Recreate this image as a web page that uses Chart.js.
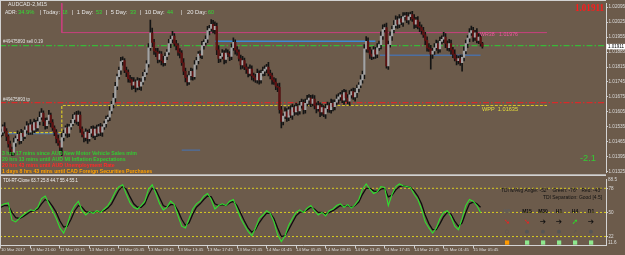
<!DOCTYPE html>
<html><head><meta charset="utf-8">
<script src="https://cdn.jsdelivr.net/npm/chart.js@4.4.0/dist/chart.umd.min.js"></script>
<style>
html,body{margin:0;padding:0;background:#6c5b4b;width:625px;height:255px;overflow:hidden}
#main{position:absolute;left:0;top:0}
#ind{position:absolute;left:0;top:176px}
</style></head><body>
<canvas id="main" width="625" height="176"></canvas>
<canvas id="ind" width="625" height="79"></canvas>
<script>
// ---------------- DATA ----------------
const firstOpen = 1.01500;
// M15 closes, AUDCAD, bar 0 = 10 Mar 2017
const closes = [
 1.01510,1.01535,1.01515,1.01490,1.01455,1.01430,1.01415,1.01460,1.01480,1.01500,
 1.01470,1.01505,1.01490,1.01520,1.01540,1.01510,1.01545,1.01520,1.01555,1.01530,
 1.01560,1.01580,1.01600,1.01560,1.01540,1.01565,1.01590,1.01555,1.01530,1.01510,
 1.01480,1.01460,1.01440,1.01485,1.01505,1.01530,1.01505,1.01535,1.01550,1.01570,
 1.01590,1.01560,1.01590,1.01525,1.01500,1.01485,1.01510,1.01480,1.01505,1.01525,
 1.01495,1.01525,1.01505,1.01535,1.01510,1.01535,1.01550,1.01570,1.01580,1.01610,
 1.01640,1.01670,1.01725,1.01770,1.01800,1.01840,1.01845,1.01800,1.01790,1.01760,
 1.01755,1.01730,1.01745,1.01720,1.01750,1.01725,1.01745,1.01770,1.01790,1.01830,
 1.01905,1.01975,1.01930,1.01890,1.01885,1.01850,1.01875,1.01845,1.01835,1.01865,
 1.01885,1.01925,1.01945,1.01960,1.01925,1.01915,1.01885,1.01880,1.01835,1.01795,
 1.01765,1.01745,1.01775,1.01795,1.01770,1.01825,1.01845,1.01875,1.01870,1.01915,
 1.01930,1.01945,1.01985,1.01995,1.02015,1.01990,1.02005,1.01895,1.01855,1.01865,
 1.01880,1.01850,1.01880,1.01875,1.01865,1.01905,1.01930,1.01895,1.01885,1.01855,
 1.01825,1.01845,1.01815,1.01805,1.01785,1.01805,1.01775,1.01765,1.01755,1.01785,
 1.01755,1.01785,1.01795,1.01805,1.01815,1.01785,1.01775,1.01755,1.01745,1.01725,
 1.01720,1.01615,1.01560,1.01585,1.01605,1.01580,1.01615,1.01590,1.01625,1.01605,
 1.01630,1.01610,1.01635,1.01650,1.01615,1.01645,1.01660,1.01670,1.01645,1.01665,
 1.01635,1.01620,1.01635,1.01605,1.01625,1.01595,1.01620,1.01635,1.01615,1.01645,
 1.01630,1.01650,1.01665,1.01675,1.01685,1.01660,1.01695,1.01670,1.01655,1.01685,
 1.01700,1.01675,1.01695,1.01715,1.01730,1.01755,1.01780,1.01900,1.01935,1.01895,
 1.01875,1.01865,1.01895,1.01875,1.01905,1.01920,1.01960,1.01990,1.02000,1.01820,
 1.01920,1.01960,1.01990,1.02010,1.02035,1.02015,1.02040,1.02025,1.02050,1.02055,
 1.02035,1.02050,1.02060,1.02040,1.02015,1.02035,1.02005,1.02000,1.01985,1.01965,
 1.01940,1.01905,1.01900,1.01875,1.01890,1.01905,1.01925,1.01900,1.01935,1.01945,
 1.01955,1.01925,1.01905,1.01925,1.01895,1.01875,1.01855,1.01845,1.01855,1.01835,
 1.01860,1.01890,1.01925,1.01950,1.01975,1.01985,1.01955,1.01975,1.01940,1.01955,
 1.01925,1.01911
];
// wick lengths in points (0.00001) above / below the body
const wickUp = [
 15,10,20,12,8,14,10,22,12,16, 10,18,12,15,20,10,24,12,16,10, 18,25,20,10,16,12,22,10,14,10,
 12,16,10,20,15,10,18,12,16,22, 12,18,20,15,10,12,16,10,20,12, 15,10,18,12,16,10,12,15,10,20,
 15,22,18,12,15,20,18,10,15,12, 16,12,20,10,15,12,16,20,12,15, 20,60,22,15,12,18,15,12,20,16,
 12,20,16,22,12,15,10,16,12,20, 15,12,20,15,12,20,15,12,16,20, 12,16,20,15,22,18,21,15,20,12,
 16,12,20,15,12,18,22,12,16,10, 16,20,12,15,10,20,16,12,16,20, 12,16,20,15,12,22,16,12,10,16,
 12,20,16,12,20,15,12,20,16,12, 16,12,20,15,12,20,22,16,12,20, 16,12,20,12,16,10,20,16,12,20,
 16,12,20,16,12,20,16,12,16,20, 12,16,20,16,12,20,16,20,22,16, 12,20,16,12,20,16,20,22,16,20,
 16,20,16,22,20,16,20,12,20,15, 16,20,12,16,20,12,16,20,12,16, 12,16,20,16,12,20,16,12,20,16,
 22,16,12,20,16,12,20,16,12,16, 12,20,16,12,20,22,16,12,20,16, 12,6
];
const wickDn = [
 12,16,10,20,15,20,15,12,16,10, 16,12,20,10,16,12,10,20,12,16, 12,16,10,20,16,12,16,20,12,16,
 20,12,16,40,16,12,20,16,12,10, 16,12,20,16,12,20,16,22,12,16, 12,20,16,12,16,20,12,16,10,16,
 12,16,20,16,12,20,16,12,20,16, 12,20,16,22,12,16,20,12,16,10, 16,12,20,16,22,16,12,20,16,12,
 16,12,20,16,12,20,16,22,12,16, 20,16,12,20,16,12,20,16,12,16, 16,12,16,20,12,16,20,22,20,16,
 12,20,16,12,20,16,12,20,16,12, 20,16,12,20,16,12,20,16,12,16, 20,16,12,20,16,12,16,20,12,16,
 20,16,30,16,12,20,16,12,20,16, 12,20,16,12,20,16,12,20,16,12, 16,20,12,22,16,12,20,16,12,16,
 20,16,12,20,16,12,20,16,12,20, 16,12,20,22,16,12,16,20,16,12, 20,16,12,20,16,12,20,16,12,10,
 16,12,20,16,12,20,16,12,20,16, 12,20,16,12,20,16,12,20,16,12, 20,16,12,70,20,16,12,20,16,12,
 16,20,12,16,20,16,12,20,16,12, 40,16,12,20,16,12,20,16,12,16, 12,8
];
// TDI values, one every 2 bars (bar = 2*k)
const tdiGreen = [
 58,60,61,41,39,43,47,50,53,52, 56,66,69,60,52,43,32,26,36,50, 58,63,52,47,51,49,52,50,54,58,
 65,74,80,82,71,61,56,54,58,63, 77,82,72,60,53,56,63,59,46,34, 32,43,54,60,63,69,72,65,54,58,
 60,58,63,65,54,43,35,28,23,32, 43,47,52,49,39,24,16,23,35,43, 50,53,50,55,58,52,47,50,46,52,
 54,58,60,56,59,55,59,65,77,83, 77,72,74,80,79,58,71,80,83,81, 80,79,71,65,54,39,32,26,32,43,
 50,52,45,34,30,43,58,65,63,58, 50
];
const tdiSignal = [
 56,58,58,50,44,43,45,48,51,52, 54,60,65,63,57,50,40,33,34,42, 52,58,56,51,50,50,51,51,52,55,
 60,68,76,80,77,68,60,56,56,60, 70,78,76,67,58,56,59,59,52,42, 35,38,48,56,60,65,69,68,60,58,
 59,58,61,63,58,49,40,32,27,30, 38,44,49,49,43,32,22,23,30,38, 46,50,51,53,56,54,50,50,48,50,
 52,55,58,57,58,56,58,62,71,78, 78,75,74,77,78,68,70,76,80,81, 80,79,75,69,60,47,37,30,30,37,
 45,50,48,40,34,38,50,60,62,60, 56
];
const priceTicks = [1.02095,1.02025,1.01955,1.01885,1.01815,1.01745,1.01675,1.01605,1.01535,1.01465,1.01395,1.01325];
const timeTickBars = [0,16,32,48,64,80,96,112,128,144,160,176,192,208,224,240,256];
const timeTickLabels = ["10 Mar 2017","10 Mar 21:00","11 Mar 00:15","13 Mar 01:45","13 Mar 05:45","13 Mar 09:45",
 "13 Mar 13:45","13 Mar 17:45","13 Mar 21:45","14 Mar 01:45","14 Mar 05:45","14 Mar 09:45","14 Mar 13:45",
 "14 Mar 17:45","14 Mar 21:45","15 Mar 01:45","15 Mar 05:45"];
const tdiLevels = [78, 50, 22];
const lastPrice = 1.01911;
const sellPrice = 1.01915, tpPrice = 1.01648;
const wppPrev = 1.01508, wppNow = 1.01635, wr38 = 1.01976;
const weekStartBar = 33, pivotEndBar = 296;

// ---------------- BUILD ----------------
const X_MIN = -0.5, X_MAX = 328;
const opens = [firstOpen].concat(closes.slice(0, closes.length - 1));
const wickData = closes.map((c, i) => ({x: i, y: [Math.min(opens[i], c) - wickDn[i] * 1e-5, Math.max(opens[i], c) + wickUp[i] * 1e-5]}));
const bodyData = closes.map((c, i) => ({x: i, y: [opens[i], c]}));
const FONT = '"Liberation Sans", Arial, sans-serif';

function T(ctx, s, x, y, o) {
  ctx.save();
  ctx.font = (o.bold ? 'bold ' : '') + o.size + 'px ' + (o.family || FONT);
  ctx.fillStyle = o.color; ctx.textAlign = o.align || 'left'; ctx.textBaseline = 'middle';
  if (o.w) ctx.fillText(s, x, y, o.w); else ctx.fillText(s, x, y);
  ctx.restore();
}
function hline(y, x0, x1, color, dash, width) {
  return {type: 'line', data: [{x: x0, y: y}, {x: x1, y: y}], borderColor: color, borderWidth: width || 1,
    borderDash: dash || [], pointRadius: 0, order: 10, fill: false};
}

const mainText = {
  id: 'mainText',
  afterDraw(chart) {
    const ctx = chart.ctx;
    ctx.save();
    ctx.fillStyle = '#d2d2d2';
    ctx.fillRect(0, 0, 606, 1);
    ctx.fillRect(0, 0, 1, 176);
    ctx.fillRect(0, 174.3, 606, 1.8);
    ctx.restore();
    const W = '#e6e6e6', G = '#33dd33';
    T(ctx, 'AUDCAD-2,M15', 8, 4.5, {size: 5.6, color: W, w: 39});
    T(ctx, 'ADR:', 5, 12.5, {size: 5.8, color: W, w: 12});
    T(ctx, '34.9%', 18, 12.5, {size: 5.8, color: G, w: 18});
    T(ctx, '| Today:', 40, 12.5, {size: 5.8, color: W, w: 20});
    T(ctx, '18', 62.5, 12.5, {size: 5.8, color: G, w: 5});
    T(ctx, '|  1 Day:', 72, 12.5, {size: 5.8, color: W, w: 23});
    T(ctx, '53', 96, 12.5, {size: 5.8, color: G, w: 6});
    T(ctx, '|  5 Day:', 106, 12.5, {size: 5.8, color: W, w: 22});
    T(ctx, '33', 130, 12.5, {size: 5.8, color: G, w: 6});
    T(ctx, '|  10 Day:', 140, 12.5, {size: 5.8, color: W, w: 25});
    T(ctx, '44', 167, 12.5, {size: 5.8, color: G, w: 6});
    T(ctx, '|', 181, 12.5, {size: 5.8, color: W});
    T(ctx, '20 Day:', 187, 12.5, {size: 5.8, color: W, w: 20});
    T(ctx, '60', 208, 12.5, {size: 5.8, color: G, w: 6});
    T(ctx, '1.01911', 604, 8.5, {size: 10, color: '#ff1a1a', bold: true, align: 'right', w: 29, family: '"Liberation Serif", "Times New Roman", serif'});
    T(ctx, 'WR38   1.01976', 480, 34.5, {size: 5.6, color: '#ee5aa0', w: 38});
    T(ctx, 'WPP  1.01635', 482, 109.5, {size: 5.6, color: '#e6dc3a', w: 38});
    T(ctx, '#49475893 sell 0.19', 3, 41.5, {size: 4.8, color: '#e0e0e0', w: 40});
    T(ctx, '#49475893 tp', 3, 99.8, {size: 4.8, color: '#e0e0e0', w: 27});
    T(ctx, '-2.1', 580, 158, {size: 9.5, color: '#33cc33', w: 16});
    T(ctx, '3 hrs 17 mins since AUD New Motor Vehicle Sales m/m', 2, 153.3, {size: 5.2, color: '#33cc33', bold: true, w: 140});
    T(ctx, '20 hrs 13 mins until AUD MI Inflation Expectations', 2, 159.3, {size: 5.2, color: '#33cc33', bold: true, w: 134});
    T(ctx, '20 hrs 43 mins until AUD Unemployment Rate', 2, 165.3, {size: 5.2, color: '#ff2a2a', bold: true, w: 115});
    T(ctx, '1 days 8 hrs 43 mins until CAD Foreign Securities Purchases', 2, 171.3, {size: 5.2, color: '#ffa000', bold: true, w: 154});
    const yp = chart.scales.y.getPixelForValue(lastPrice);
    ctx.save();
    ctx.fillStyle = '#ffffff';
    ctx.fillRect(606.5, yp - 2.6, 18.5, 5.4);
    ctx.restore();
    T(ctx, '1.01911', 608, yp + 0.2, {size: 4.6, color: '#000000', w: 16});
  }
};

new Chart(document.getElementById('main'), {
  type: 'bar',
  data: {datasets: [
    {type: 'bar', data: wickData, backgroundColor: '#141414', barThickness: 1, grouped: false, order: 2},
    {type: 'bar', data: bodyData, barThickness: 1.6, grouped: false, order: 1,
      backgroundColor: c => (closes[c.dataIndex] >= opens[c.dataIndex] ? '#a4a4a4' : '#5e1212')},
    hline(sellPrice, X_MIN, X_MAX, '#38b838', [6, 2, 1.5, 2], 1.2),
    hline(tpPrice, X_MIN, X_MAX, '#d82a2a', [6, 2, 1.5, 2], 1.2),
    {type: 'line', data: [{x: X_MIN, y: wppPrev}, {x: weekStartBar, y: wppPrev}, {x: weekStartBar, y: wppNow}, {x: pivotEndBar, y: wppNow}],
      borderColor: '#d6c628', borderWidth: 1.2, borderDash: [3, 1.5], pointRadius: 0, order: 10},
    {type: 'line', data: [{x: weekStartBar, y: 1.0216}, {x: weekStartBar, y: wr38}, {x: pivotEndBar, y: wr38}],
      borderColor: '#c8407e', borderWidth: 1, pointRadius: 0, order: 10},
    hline(1.01935, 116, 203, '#3a8ad6', [], 1.5),
    hline(1.01870, 205.5, 260, '#4c6fa2', [], 1.5),
    hline(1.01504, 3.8, 32, '#4c72a8', [], 1.5),
    hline(1.01426, 98, 108, '#4c6fa2', [], 1.2)
  ]},
  options: {
    responsive: false, animation: false, devicePixelRatio: 1, events: [],
    layout: {padding: {top: 1, bottom: 2, left: 0, right: 0}},
    plugins: {legend: {display: false}, tooltip: {enabled: false}},
    scales: {
      x: {type: 'linear', min: X_MIN, max: X_MAX, display: false, offset: false},
      y: {position: 'right', min: 1.013203, max: 1.021133,
        afterBuildTicks: s => { s.ticks = priceTicks.map(v => ({value: v})); },
        afterFit: s => { s.width = 19; },
        ticks: {autoSkip: false, padding: 0.5, color: '#dcdcdc', font: {size: 4.6, family: FONT},
          callback: v => Number(v).toFixed(5)},
        grid: {display: true, drawOnChartArea: false, drawTicks: true, tickLength: 2, color: '#cfcfcf'},
        border: {display: true, color: '#d4d4d4', width: 1}
      }
    }
  },
  plugins: [mainText]
});

const indText = {
  id: 'indText',
  afterDraw(chart) {
    const ctx = chart.ctx;
    ctx.save(); ctx.fillStyle = '#d2d2d2'; ctx.fillRect(0, 0, 1, 70); ctx.restore();
    T(ctx, 'TDI-RT-Clone 63.7 25.8 44.7 55.4 55.1', 3, 5, {size: 4.8, color: '#f0f0f0', w: 75});
    T(ctx, '88.5', 608, 4, {size: 4.6, color: '#dcdcdc'});
    T(ctx, '11.6', 608, 66.5, {size: 4.6, color: '#dcdcdc'});
    T(ctx, 'TDI w/Avg Angle: -52°   Green: -76°   Red: -43°', 602, 15, {size: 5, color: '#111111', align: 'right', w: 101});
    T(ctx, 'TDI Separation: Good [4.5]', 602, 22, {size: 5, color: '#111111', align: 'right', w: 59});
    const cols = [507, 527, 543, 559, 575, 591];
    const tfs = ['M5', 'M15', 'M30', 'H1', 'H4', 'D1'];
    const arrows = ['➘', '➘', '➔', '➔', '➚', '➔'];
    const acol = ['#ff1a1a', '#ff1a1a', '#111111', '#111111', '#22ee22', '#111111'];
    const sq = ['#ff9a00', '#8ee88e', '#8ee88e', '#8ee88e', '#8ee88e', '#8ee88e'];
    cols.forEach((cx, i) => {
      T(ctx, tfs[i], cx, 36, {size: 5, bold: true, color: i === 0 ? '#5e5e5e' : '#111111', align: 'center'});
      T(ctx, arrows[i], cx, 46, {size: 7.5, bold: true, color: acol[i], align: 'center', family: '"DejaVu Sans", sans-serif'});
      T(ctx, i === 0 ? '○' : (i === 4 ? '➚' : '●'), cx, 56, {size: 5, color: '#555555', align: 'center', family: '"DejaVu Sans", sans-serif'});
      T(ctx, '■', cx, 67, {size: 5.5, color: sq[i], align: 'center', family: '"DejaVu Sans", sans-serif'});
    });
  }
};

const levelSets = tdiLevels.map(v => ({type: 'line', data: [{x: X_MIN, y: v}, {x: X_MAX, y: v}],
  borderColor: '#d9cc22', borderWidth: 1, borderDash: [2, 2], pointRadius: 0, order: 10}));

new Chart(document.getElementById('ind'), {
  type: 'line',
  data: {datasets: levelSets.concat([
    {data: tdiSignal.map((v, k) => ({x: 2 * k, y: v})), borderColor: '#0e0e0e', borderWidth: 1.3, pointRadius: 0, tension: 0, order: 2},
    {data: tdiGreen.map((v, k) => ({x: 2 * k, y: v})), borderColor: '#2fe02f', borderWidth: 1.1, pointRadius: 0, tension: 0, order: 1}
  ])},
  options: {
    responsive: false, animation: false, devicePixelRatio: 1, events: [],
    layout: {padding: {top: 1.5, bottom: 0, left: 0, right: 0}},
    plugins: {legend: {display: false}, tooltip: {enabled: false}},
    scales: {
      x: {type: 'linear', min: X_MIN, max: X_MAX, offset: false,
        afterBuildTicks: s => { s.ticks = timeTickBars.map(v => ({value: v})); },
        afterFit: s => { s.height = 9.5; },
        ticks: {autoSkip: false, maxRotation: 0, minRotation: 0, align: 'start', padding: -1.5, color: '#dcdcdc',
          font: {size: 4.3, family: FONT},
          callback: v => { const i = timeTickBars.indexOf(v); return i >= 0 ? timeTickLabels[i] : ''; }},
        grid: {display: true, drawOnChartArea: false, drawTicks: true, tickLength: 3, color: '#cfcfcf'},
        border: {display: true, color: '#d4d4d4', width: 1}
      },
      y: {position: 'right', min: 11.6, max: 88.5,
        afterBuildTicks: s => { s.ticks = tdiLevels.map(v => ({value: v})); },
        afterFit: s => { s.width = 19; },
        ticks: {autoSkip: false, padding: 0.5, color: '#dcdcdc', font: {size: 4.6, family: FONT}},
        grid: {display: true, drawOnChartArea: false, drawTicks: true, tickLength: 2, color: '#cfcfcf'},
        border: {display: true, color: '#d4d4d4', width: 1}
      }
    }
  },
  plugins: [indText]
});
</script></body></html>
